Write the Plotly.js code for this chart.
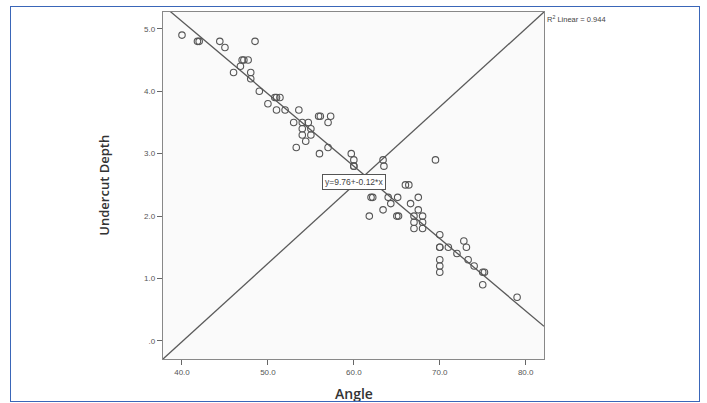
<!DOCTYPE html>
<html>
<head>
<meta charset="utf-8">
<script src="https://cdn.plot.ly/plotly-3.0.1.min.js"></script>
<style>
  html, body { margin: 0; padding: 0; background: #ffffff; }
  #wrap { position: relative; width: 707px; height: 403px; }
  #chart { position: absolute; left: 0; top: 0; width: 707px; height: 403px; }
  #frame { position: absolute; left: 10px; top: 6px; width: 688px; height: 394px;
           border: 1.5px solid #3a66b8; pointer-events: none; }
</style>
</head>
<body>
<div id="wrap">
  <div id="chart"></div>
  <div id="frame"></div>
</div>
<script>
// Data (Angle vs Undercut Depth)
const angle = [
  40.0, 41.8, 42.0, 44.4, 45.0, 48.5, 47.0, 47.2, 47.7, 46.8,
  46.0, 48.0, 48.0, 49.0, 50.8, 51.0, 51.4, 50.0, 51.0, 52.0,
  53.6, 53.0, 54.0, 54.7, 55.9, 56.1, 57.3, 57.0, 54.0, 55.0,
  54.0, 55.0, 54.4, 53.3, 57.0, 56.0, 59.7, 60.0, 60.0, 60.0,
  63.4, 63.5, 69.5, 66.0, 66.4, 62.0, 62.2, 64.0, 65.1, 64.3,
  67.5, 66.6, 63.4, 67.5, 61.8, 65.0, 65.2, 67.0, 68.0, 67.0,
  68.0, 67.0, 68.0, 70.0, 70.0, 70.0, 71.0, 72.8, 73.1, 72.0,
  70.0, 73.3, 70.0, 74.0, 70.0, 75.0, 75.2, 75.0, 79.0
];
const depth = [
  4.9, 4.8, 4.8, 4.8, 4.7, 4.8, 4.5, 4.5, 4.5, 4.4,
  4.3, 4.3, 4.2, 4.0, 3.9, 3.9, 3.9, 3.8, 3.7, 3.7,
  3.7, 3.5, 3.5, 3.5, 3.6, 3.6, 3.6, 3.5, 3.4, 3.4,
  3.3, 3.3, 3.2, 3.1, 3.1, 3.0, 3.0, 2.9, 2.8, 2.8,
  2.9, 2.8, 2.9, 2.5, 2.5, 2.3, 2.3, 2.3, 2.3, 2.2,
  2.3, 2.2, 2.1, 2.1, 2.0, 2.0, 2.0, 2.0, 2.0, 1.9,
  1.9, 1.8, 1.8, 1.7, 1.5, 1.5, 1.5, 1.6, 1.5, 1.4,
  1.3, 1.3, 1.2, 1.2, 1.1, 1.1, 1.1, 0.9, 0.7
];

// Fit line parameters
const fitIntercept = 9.76;
const fitSlope = -0.116;
const fitLabel = "y=9.76+-0.12*x";
const r2Label = "R<sup>2</sup> Linear = 0.944";

// Axes
const xRange = [37.79, 82.13];
const yRange = [-0.29, 5.27];
const xTickVals = [40, 50, 60, 70, 80];
const xTickText = ["40.0", "50.0", "60.0", "70.0", "80.0"];
const yTickVals = [0, 1, 2, 3, 4, 5];
const yTickText = [".0", "1.0", "2.0", "3.0", "4.0", "5.0"];
const xTitle = "Angle";
const yTitle = "Undercut Depth";

const fitX = [xRange[0], xRange[1]];
const fitY = fitX.map(v => fitIntercept + fitSlope * v);

const lineCol = "#5a5a5a";
const tickFont = { family: "Liberation Sans, Arial, sans-serif", size: 8, color: "#555555" };

const traces = [
  {
    x: fitX, y: fitY, type: "scatter", mode: "lines",
    line: { color: lineCol, width: 1.3 }, hoverinfo: "skip", showlegend: false
  },
  {
    x: angle, y: depth, type: "scatter", mode: "markers",
    marker: { symbol: "circle-open", size: 6.5, color: "#555555", line: { width: 1.1 } },
    showlegend: false, cliponaxis: false
  }
];

const layout = {
  width: 707, height: 403,
  margin: { l: 163, r: 163, t: 12, b: 44 },
  paper_bgcolor: "#ffffff",
  plot_bgcolor: "#fafafa",
  showlegend: false,
  xaxis: {
    range: xRange, tickvals: xTickVals, ticktext: xTickText,
    ticks: "outside", ticklen: 5, tickwidth: 1, tickcolor: "#666666",
    showgrid: false, zeroline: false,
    showline: true, mirror: true, linecolor: "#888888", linewidth: 1.3,
    tickfont: tickFont
  },
  yaxis: {
    range: yRange, tickvals: yTickVals, ticktext: yTickText,
    ticks: "outside", ticklen: 5, tickwidth: 1, tickcolor: "#666666",
    showgrid: false, zeroline: false,
    showline: true, mirror: true, linecolor: "#888888", linewidth: 1.3,
    tickfont: tickFont
  },
  shapes: [
    { type: "line", xref: "paper", yref: "paper", x0: 0, y0: 0, x1: 1, y1: 1,
      line: { color: lineCol, width: 1.3 }, layer: "below" }
  ],
  annotations: [
    { xref: "x", yref: "y", x: 59.96, y: 2.54, text: fitLabel, showarrow: false,
      font: { family: "Liberation Sans, Arial, sans-serif", size: 8.5, color: "#444444" },
      bgcolor: "#ffffff", bordercolor: "#555555", borderwidth: 1, borderpad: 2 },
    { xref: "paper", yref: "paper", x: 1.003, y: 1.0, xanchor: "left", yanchor: "top",
      text: r2Label, showarrow: false,
      font: { family: "Liberation Sans, Arial, sans-serif", size: 7.5, color: "#444444" } },
    { xref: "paper", yref: "paper", x: 0.5, y: -0.098, xanchor: "center", yanchor: "middle",
      text: xTitle, showarrow: false,
      font: { family: "Open Sans, sans-serif", size: 14, color: "#333333", weight: 600 } },
    { xref: "paper", yref: "paper", x: -0.157, y: 0.5, xanchor: "center", yanchor: "middle",
      text: yTitle, showarrow: false, textangle: -90,
      font: { family: "Open Sans, sans-serif", size: 13, color: "#333333", weight: 600 } }
  ]
};

Plotly.newPlot("chart", traces, layout, { displayModeBar: false, staticPlot: true });
</script>
</body>
</html>
